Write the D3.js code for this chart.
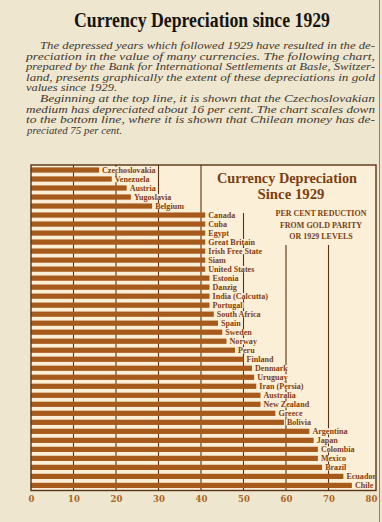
<!DOCTYPE html>
<html><head><meta charset="utf-8">
<script src="https://cdn.jsdelivr.net/npm/d3@7"></script>
<style>html,body{margin:0;padding:0;background:#efe6cf;}svg{display:block;}</style>
</head><body>
<svg id="c" width="382" height="522"></svg>
<script>
const countries = ["Czechoslovakia","Venezuela","Austria","Yugoslavia","Belgium","Canada","Cuba","Egypt","Great Britain","Irish Free State","Siam","United States","Estonia","Danzig","India (Calcutta)","Portugal","South Africa","Spain","Sweden","Norway","Peru","Finland","Denmark","Uruguay","Iran (Persia)","Australia","New Zealand","Greece","Bolivia","Argentina","Japan","Colombia","Mexico","Brazil","Ecuador","Chile"];
const values = [16,19,22.5,23.5,28.5,41,41,41,41,41,41,41,42,42,42,42,43,44,45,46,48,50,52,52.5,53,54,54,57.5,59.5,65.5,66.5,67.5,67.5,68.5,73.5,75.5];
const tickValues = [0,10,20,30,40,50,60,70,80];
const title = "Currency Depreciation since 1929";
const paragraph = [
 "The depressed years which followed 1929 have resulted in the de-",
 "preciation in the value of many currencies.  The following chart,",
 "prepared by the Bank for International Settlements at Basle, Switzer-",
 "land, presents graphically the extent of these depreciations in gold",
 "values since 1929.",
 "Beginning at the top line, it is shown that the Czechoslovakian",
 "medium has depreciated about 16 per cent.  The chart scales down",
 "to the bottom line, where it is shown that Chilean money has de-",
 "preciated 75 per cent."
];
const boxTitle = ["Currency Depreciation","Since 1929"];
const boxNote = ["PER CENT REDUCTION","FROM GOLD PARITY","OR 1929 LEVELS"];

const svg = d3.select("#c");
const paper = "#efe6cf", inner = "#fbefd8", barC = "#a65a1c", ink = "#5a3214", labC = "#84400f";

svg.append("rect").attr("x",0).attr("y",0).attr("width",382).attr("height",522).attr("fill",paper);
svg.append("line").attr("x1",379.5).attr("x2",379.5).attr("y1",0).attr("y2",522).attr("stroke","#8a8274").attr("stroke-width",1);

// title
svg.append("text").attr("x",202).attr("y",27).attr("text-anchor","middle")
  .attr("font-family","Liberation Serif, serif").attr("font-weight","bold").attr("font-size",20)
  .attr("fill","#161412").attr("textLength",256).attr("lengthAdjust","spacingAndGlyphs").text(title);

// paragraph
const pl = [ [40,375],[26,375],[26,375],[26,375],[26,117],[40,375],[26,375],[26,375],[27,122] ];
svg.selectAll("text.p").data(paragraph).join("text").attr("class","p")
  .attr("x",(d,i)=>pl[i][0]).attr("y",(d,i)=>49+i*10.6)
  .attr("font-family","Liberation Serif, serif").attr("font-style","italic").attr("font-size",10.8)
  .attr("fill","#403830").attr("textLength",(d,i)=>pl[i][1]-pl[i][0]).attr("lengthAdjust","spacingAndGlyphs")
  .text(d=>d);

// scales
const x = d3.scaleLinear().domain([0,80]).range([31,371]);
const y = d3.scaleBand().domain(countries).range([165,490.4]).paddingInner(0.42).paddingOuter(0.265);

const frame = {x0:31, x1:376, y0:165, y1:490.5};
svg.append("rect").attr("x",frame.x0).attr("y",frame.y0).attr("width",frame.x1-frame.x0).attr("height",frame.y1-frame.y0).attr("fill",inner);

// gridlines
const gridTop = {10:165,20:165,30:165,40:165,50:213,60:245,70:245};
svg.append("g").selectAll("line").data(tickValues.filter(t=>t>0&&t<80)).join("line")
  .attr("x1",d=>x(d)).attr("x2",d=>x(d)).attr("y1",d=>gridTop[d]).attr("y2",frame.y1)
  .attr("stroke",ink).attr("stroke-width",1.1);

svg.append("clipPath").attr("id","clip").append("rect").attr("x",frame.x0).attr("y",frame.y0).attr("width",frame.x1-frame.x0-1).attr("height",frame.y1-frame.y0);

// bars
const data = countries.map((c,i)=>({c, v: values[i]}));
svg.append("g").selectAll("rect").data(data).join("rect")
  .attr("x",x(0)).attr("y",d=>y(d.c)).attr("width",d=>x(d.v)-x(0)).attr("height",y.bandwidth()).attr("fill",barC);

// labels
const lg = svg.append("g").attr("clip-path","url(#clip)");
const lab = lg.selectAll("g").data(data).join("g");
const bgs = lab.append("rect").attr("fill",inner);
const txt = lab.append("text").attr("x",d=>x(d.v)+3).attr("y",d=>y(d.c)+y.bandwidth()/2+3)
  .attr("font-family","Liberation Serif, serif").attr("font-weight","bold").attr("font-size",8.1)
  .attr("fill",labC).text(d=>d.c);
bgs.each(function(d,i){ const t=txt.nodes()[i]; const w=t.getComputedTextLength();
  d3.select(this).attr("x",x(d.v)+2).attr("y",y(d.c)-0.5).attr("width",w+2).attr("height",y.bandwidth()+1); });

// box titles
svg.selectAll("text.bt").data(boxTitle).join("text").attr("class","bt")
  .attr("x",(d,i)=>[287,291][i]).attr("y",(d,i)=>[183,199][i]).attr("text-anchor","middle")
  .attr("font-family","Liberation Serif, serif").attr("font-weight","bold").attr("font-size",15.5)
  .attr("fill","#7c3f12").attr("textLength",(d,i)=>[140,67][i]).attr("lengthAdjust","spacingAndGlyphs").text(d=>d);
svg.selectAll("text.bn").data(boxNote).join("text").attr("class","bn")
  .attr("x",321).attr("y",(d,i)=>216+i*11.5).attr("text-anchor","middle")
  .attr("font-family","Liberation Serif, serif").attr("font-weight","bold").attr("font-size",8)
  .attr("fill","#7c3f12").text(d=>d);

// frame
svg.append("rect").attr("x",frame.x0).attr("y",frame.y0).attr("width",frame.x1-frame.x0).attr("height",frame.y1-frame.y0)
  .attr("fill","none").attr("stroke",ink).attr("stroke-width",1.4);

// axis
const axis = d3.axisBottom(x).tickValues(tickValues).tickSize(0).tickPadding(0);
const ag = svg.append("g").attr("transform",`translate(0,${frame.y1+6})`).call(axis);
ag.select(".domain").remove();
ag.selectAll("text").attr("font-family","DejaVu Serif, serif").attr("font-weight","bold").attr("font-size",8.5)
  .attr("fill","#a8641f").attr("dy","0.7em");
</script>
</body></html>
